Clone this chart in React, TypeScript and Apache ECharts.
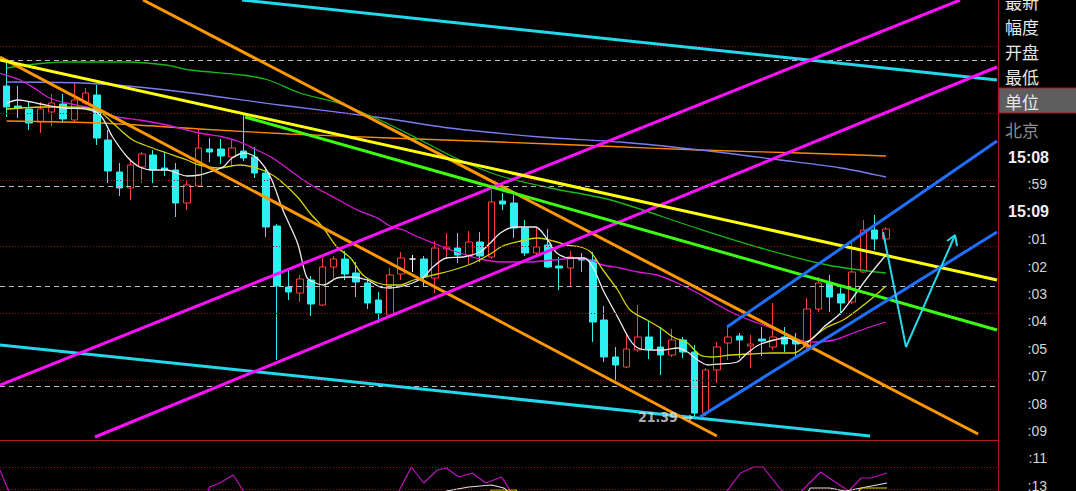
import React, { useEffect, useRef } from 'react';
import * as echarts from 'echarts';

// ---- candles: [open, close, lowest, highest] ----
const candles: number[][] = [
  [22.382, 22.319, 22.289, 22.451], [22.322, 22.316, 22.286, 22.382], [22.313, 22.271, 22.25, 22.337],
  [22.274, 22.313, 22.241, 22.334], [22.304, 22.331, 22.262, 22.358], [22.328, 22.283, 22.271, 22.358],
  [22.28, 22.34, 22.271, 22.391], [22.331, 22.361, 22.325, 22.376], [22.355, 22.226, 22.205, 22.385],
  [22.22, 22.127, 22.091, 22.25], [22.124, 22.076, 22.052, 22.151], [22.076, 22.145, 22.04, 22.16],
  [22.139, 22.178, 22.091, 22.184], [22.175, 22.13, 22.091, 22.19], [22.136, 22.13, 22.112, 22.184],
  [22.13, 22.031, 21.989, 22.151], [22.031, 22.085, 22.01, 22.1], [22.082, 22.196, 22.079, 22.253],
  [22.193, 22.184, 22.154, 22.226], [22.193, 22.172, 22.148, 22.223], [22.169, 22.196, 22.145, 22.22],
  [22.187, 22.166, 22.157, 22.295], [22.169, 22.121, 22.106, 22.199], [22.121, 21.959, 21.929, 22.139],
  [21.962, 21.782, 21.56, 21.968], [21.779, 21.764, 21.74, 21.833], [21.761, 21.803, 21.734, 21.815],
  [21.8, 21.728, 21.692, 21.812], [21.725, 21.839, 21.722, 21.866], [21.839, 21.863, 21.8, 21.872],
  [21.863, 21.818, 21.8, 21.887], [21.821, 21.794, 21.749, 21.854], [21.791, 21.731, 21.713, 21.803],
  [21.74, 21.701, 21.671, 21.764], [21.695, 21.815, 21.689, 21.836], [21.818, 21.866, 21.8, 21.884],
  [21.863, 21.863, 21.824, 21.875], [21.863, 21.809, 21.782, 21.872], [21.806, 21.896, 21.761, 21.917],
  [21.893, 21.899, 21.863, 21.941], [21.896, 21.875, 21.851, 21.941], [21.875, 21.914, 21.848, 21.947],
  [21.914, 21.872, 21.854, 21.944], [21.869, 22.034, 21.863, 22.07], [22.037, 22.028, 22.01, 22.061],
  [22.031, 21.956, 21.926, 22.055], [21.956, 21.881, 21.872, 21.98], [21.881, 21.899, 21.875, 21.956],
  [21.905, 21.839, 21.836, 21.953], [21.842, 21.836, 21.77, 21.869], [21.836, 21.869, 21.779, 21.887],
  [21.866, 21.86, 21.824, 21.881], [21.86, 21.674, 21.614, 21.884], [21.68, 21.569, 21.554, 21.722],
  [21.569, 21.545, 21.5, 21.599], [21.539, 21.593, 21.536, 21.641], [21.59, 21.629, 21.584, 21.725],
  [21.629, 21.593, 21.563, 21.677], [21.599, 21.575, 21.515, 21.659], [21.575, 21.62, 21.569, 21.653],
  [21.62, 21.584, 21.566, 21.629], [21.584, 21.401, 21.39, 21.605], [21.401, 21.53, 21.392, 21.536],
  [21.53, 21.599, 21.491, 21.614], [21.611, 21.629, 21.56, 21.659], [21.632, 21.62, 21.566, 21.641],
  [21.602, 21.608, 21.536, 21.635], [21.623, 21.617, 21.572, 21.659], [21.599, 21.629, 21.59, 21.731],
  [21.629, 21.608, 21.584, 21.659], [21.62, 21.608, 21.572, 21.641], [21.599, 21.713, 21.593, 21.746],
  [21.713, 21.791, 21.704, 21.809], [21.791, 21.749, 21.704, 21.815], [21.758, 21.731, 21.695, 21.785],
  [21.734, 21.824, 21.728, 21.911], [21.824, 21.95, 21.821, 21.98], [21.95, 21.923, 21.89, 21.995],
  [21.923, 21.953, 21.911, 21.959],
];
const crossDojiIndex = 36;
const lowIndex = 61;
const lowValue = 21.39;
const lowLabel = '21.39';

// ---- moving averages: [candle index, price] ----
const ma5: number[][] = [
  [0, 22.331], [1, 22.34], [3, 22.328], [5, 22.316], [7, 22.313], [8.3, 22.295], [9.4, 22.229], [10.7, 22.169],
  [11.8, 22.139], [13, 22.13], [14.2, 22.13], [16, 22.112], [17.1, 22.115], [18, 22.124], [19.2, 22.139],
  [20, 22.166], [21.1, 22.181], [22.2, 22.166], [23.4, 22.109], [24.5, 22.01], [25.8, 21.911], [26.6, 21.809],
  [27.2, 21.794], [28.1, 21.785], [29.3, 21.806], [30.5, 21.809], [32, 21.8], [33.1, 21.779], [34, 21.776],
  [35.5, 21.785], [37, 21.809], [37.8, 21.839], [39, 21.866], [40.5, 21.869], [42, 21.884], [42.9, 21.911],
  [43.8, 21.941], [45, 21.959], [46.9, 21.959], [48, 21.92], [48.8, 21.881], [50, 21.866], [51.2, 21.866],
  [52, 21.839], [52.9, 21.77], [54.2, 21.689], [55.3, 21.62], [56, 21.596], [57.1, 21.59], [58.3, 21.59],
  [59.5, 21.596], [60.4, 21.584], [61.3, 21.56], [62.2, 21.545], [63.3, 21.548], [64.8, 21.554], [65.7, 21.581],
  [66.9, 21.608], [69.3, 21.626], [70.4, 21.611], [71.3, 21.62], [72.5, 21.659], [74, 21.701], [75.1, 21.749],
  [76.4, 21.809], [78, 21.875],
];
const ma10: number[][] = [
  [0, 22.313], [1.2, 22.316], [3.2, 22.319], [5.3, 22.319], [7.1, 22.316], [8.3, 22.304], [9.8, 22.259],
  [11.2, 22.22], [12.7, 22.199], [14.2, 22.181], [16, 22.16], [17.1, 22.145], [18.7, 22.136], [20.7, 22.145],
  [21.8, 22.139], [23.1, 22.124], [24.2, 22.1], [25.8, 22.049], [26.9, 22.001], [28.1, 21.956], [29.3, 21.899],
  [30.5, 21.866], [31.6, 21.815], [32.9, 21.791], [34, 21.785], [34.9, 21.785], [36.1, 21.8], [38.2, 21.818],
  [39.6, 21.83], [41.4, 21.851], [42.9, 21.878], [44, 21.902], [45.6, 21.917], [47.1, 21.926], [48.5, 21.917],
  [49.7, 21.905], [50.9, 21.899], [51.8, 21.884], [52.9, 21.83], [54.2, 21.77], [55.3, 21.71], [56.8, 21.68],
  [58, 21.656], [59.1, 21.629], [60.4, 21.611], [61.5, 21.575], [62.7, 21.569], [64.2, 21.575], [66, 21.578],
  [67.8, 21.581], [69.8, 21.581], [71.6, 21.629], [72.8, 21.659], [74.2, 21.68], [75.8, 21.719], [76.9, 21.749],
  [78, 21.782],
];
const ma20: number[][] = [
  [-0.6, 22.42], [1.2, 22.4], [2.7, 22.37], [3.8, 22.346], [5.3, 22.331], [7.1, 22.319], [8.3, 22.304],
  [9.8, 22.289], [11.8, 22.28], [14.2, 22.265], [16, 22.25], [17.1, 22.241], [19.2, 22.229], [20.7, 22.214],
  [22.2, 22.19], [23.6, 22.166], [25.1, 22.13], [26.3, 22.1], [27.8, 22.07], [29.3, 22.043], [31.1, 22.01],
  [32.9, 21.986], [34, 21.962], [35.2, 21.95], [36.1, 21.935], [38.5, 21.902], [40.2, 21.881], [42, 21.863],
  [43.8, 21.854], [46.2, 21.854], [48.5, 21.86], [50.9, 21.866], [51.8, 21.86], [52.9, 21.845], [54.4, 21.836],
  [56, 21.824], [57.7, 21.815], [59.5, 21.791], [61.3, 21.761], [63.1, 21.725], [64.8, 21.695], [66.6, 21.671],
  [67.8, 21.656], [69.8, 21.626], [71.6, 21.614], [73.4, 21.62], [75.1, 21.641], [76.6, 21.659], [78, 21.674],
];
const ma60: number[][] = [
  [0, 22.436], [5.1, 22.454], [10.7, 22.454], [14.1, 22.445], [16.3, 22.43], [20.9, 22.415], [23.2, 22.4],
  [26, 22.361], [29.4, 22.331], [33.1, 22.28], [36.7, 22.22], [40.2, 22.16], [43.8, 22.112], [48.2, 22.076],
  [53.6, 22.04], [60.9, 21.959], [66.9, 21.896], [72.8, 21.845], [78, 21.821],
];
const ma120: number[][] = [
  [0, 22.394], [6.7, 22.391], [14.2, 22.37], [24.2, 22.325], [33.4, 22.286], [39.3, 22.256], [47.3, 22.229],
  [54.4, 22.214], [61.5, 22.19], [68.6, 22.16], [74, 22.136], [78, 22.109],
];
const ma250: number[][] = [
  [0, 22.277], [8.3, 22.271], [17.1, 22.253], [25.1, 22.238], [34, 22.226], [43.8, 22.214], [52.7, 22.202],
  [61.5, 22.19], [70.4, 22.181], [78, 22.172],
];

// ---- drawn trend lines: [candle index, price] ----
const cyanTop = [[20.88, 22.64], [87.85, 22.4]];
const cyanBottom = [[-0.59, 21.605], [76.59, 21.332]];
const yellowTrend = [[-0.59, 22.46], [87.85, 21.8]];
const greenTrend = [[21.14, 22.289], [87.85, 21.65]];
const orangeUpper = [[12.1, 22.64], [86.17, 21.338]];
const orangeLower = [[-0.59, 22.469], [63.0, 21.332]];
const magentaUpper = [[-0.59, 21.485], [84.57, 22.64]];
const magentaLower = [[7.84, 21.329], [87.85, 22.439]];
const blueUpper = [[63.9, 21.659], [87.85, 22.217]];
const blueLower = [[61.5, 21.389], [87.85, 21.944]];
const arrowPath = [[77.74, 21.944], [79.78, 21.599], [84.13, 21.935]];
const arrowHeadLeft = [[84.13, 21.935], [83.42, 21.917]];
const arrowHeadRight = [[84.13, 21.935], [84.3, 21.902]];

// ---- horizontal levels ----
const gridLevels = [22.5, 22.3, 22.1, 21.9, 21.7, 21.5];
const dashedLevels = [22.457, 22.082, 21.779, 21.479];

// ---- indicator pane: [candle index, value 0..100] ----
const oscMagenta: number[][] = [
  [-0.6, 42], [0.4, -12], [17.7, -12], [18, 8], [18.9, 16], [20.1, 32], [21, 0], [21.3, -12], [34.5, -12],
  [34.8, 0], [35.9, 48], [37, 16], [38.2, 42], [39, 46], [40.1, 28], [41.3, 36], [42.5, 16], [43.9, 28],
  [44.7, 0], [45, -12], [63.6, -12], [63.9, 0], [65.1, 36], [66.3, 48], [67.1, 48], [68.7, 2], [69.2, -6],
  [70.2, -6], [70.6, 2], [72.2, 38], [73.5, 18], [74.7, 0], [75.8, 26], [76.6, 26], [78.1, 36],
];
const oscWhite: number[][] = [
  [38.6, -12], [39, 0], [41, 8], [43, 12], [44.1, 6], [45, -12], [70.8, -12], [71.3, 6], [73, 6], [74.4, 0],
  [75.8, 6], [78.1, 16],
];
const oscYellow: number[][] = [
  [42.6, -12], [43, 2], [45.2, 2], [45.6, -12], [75.2, -12], [75.8, 6], [78.1, 6],
];
const oscLevels = [48, 4];

// ---- right info panel ----
const panelLabels = ['最新', '幅度', '开盘', '最低', '单位', '北京'];
const timeLabels = ['15:08', ':59', '15:09', ':01', ':02', ':03', ':04', ':05', ':07', ':08', ':09', ':11', ':13'];

const X_MIN = -0.59;
const X_MAX = 87.85;

function seg(data: number[][], color: string, width: number, z = 6) {
  return {
    type: 'line', xAxisIndex: 0, yAxisIndex: 0, data, symbol: 'none', showSymbol: false,
    lineStyle: { color, width }, z, silent: true, clip: true,
  };
}
function ma(data: number[][], color: string, width = 1.3) {
  return {
    type: 'line', xAxisIndex: 0, yAxisIndex: 0, data, symbol: 'none', showSymbol: false, smooth: 0.3,
    lineStyle: { color, width }, z: 4, silent: true, clip: true,
  };
}
function osc(data: number[][], color: string) {
  return {
    type: 'line', xAxisIndex: 1, yAxisIndex: 1, data, symbol: 'none', showSymbol: false,
    lineStyle: { color, width: 1.2 }, z: 4, silent: true, clip: true,
  };
}

export default function App() {
  const ref = useRef<HTMLDivElement>(null);
  useEffect(() => {
    if (!ref.current) return;
    const chart = echarts.init(ref.current, undefined, { renderer: 'svg' });

    const candleData = candles.map((c, i) => {
      const item: any = { value: [i, c[0], c[1], c[2], c[3]] };
      if (i === crossDojiIndex) {
        item.itemStyle = { color: '#ffffff', color0: '#ffffff', borderColor: '#ffffff', borderColor0: '#ffffff', borderColorDoji: '#ffffff' };
      }
      return item;
    });

    const graphics: any[] = [];
    graphics.push({ type: 'line', shape: { x1: 0, y1: 440.5, x2: 998, y2: 440.5 }, style: { stroke: '#b01818', lineWidth: 1 }, z: 100 });
    graphics.push({ type: 'rect', shape: { x: 999, y: 88, width: 78, height: 25 }, style: { fill: '#5e5e5e', stroke: '#a81818', lineWidth: 1 }, z: 100 });
    graphics.push({ type: 'line', shape: { x1: 998.5, y1: 0, x2: 998.5, y2: 491 }, style: { stroke: '#b01818', lineWidth: 1 }, z: 101 });
    panelLabels.forEach((t, i) => {
      graphics.push({
        type: 'text', x: 1005, y: i * 25 + (i === 5 ? 3 : 0) + 1, z: 102,
        style: {
          text: t, fill: i === 5 ? '#8c8c8c' : '#e8e8e8', font: '17px "Noto Sans CJK SC"',
          textAlign: 'left', align: 'left', textVerticalAlign: 'middle', verticalAlign: 'middle',
        },
      });
    });
    timeLabels.forEach((t, k) => {
      const bold = t.length > 3;
      graphics.push({
        type: 'text', x: bold ? 1049 : 1047, y: 157 + k * 27.4, z: 102,
        style: {
          text: t, fill: bold ? '#f0f0f0' : '#d4d4d4',
          font: bold ? 'bold 16px "Liberation Sans"' : '14px "Liberation Sans"',
          textAlign: 'right', align: 'right', textVerticalAlign: 'middle', verticalAlign: 'middle',
        },
      });
    });

    const option: any = {
      animation: false,
      backgroundColor: '#000000',
      grid: [
        { left: 0, top: 0, width: 997, height: 440 },
        { left: 0, top: 441, width: 997, height: 50 },
      ],
      xAxis: [
        { type: 'value', gridIndex: 0, min: X_MIN, max: X_MAX, show: false },
        { type: 'value', gridIndex: 1, min: X_MIN, max: X_MAX, show: false },
      ],
      yAxis: [
        { type: 'value', gridIndex: 0, min: 21.32, max: 22.64, show: false, scale: true },
        { type: 'value', gridIndex: 1, min: 0, max: 100, show: false },
      ],
      graphic: graphics,
      series: [
        {
          type: 'line', xAxisIndex: 0, yAxisIndex: 0, data: [], z: 1, silent: true,
          markLine: {
            silent: true, symbol: 'none', label: { show: false },
            data: [
              ...gridLevels.map((v) => ({ yAxis: v, lineStyle: { color: '#9a1212', type: [1, 2], width: 1 } })),
              ...dashedLevels.map((v) => ({ yAxis: v, lineStyle: { color: '#bdbdbd', type: [5, 4], width: 1 } })),
            ],
          },
        },
        {
          type: 'line', xAxisIndex: 1, yAxisIndex: 1, data: [], z: 1, silent: true,
          markLine: {
            silent: true, symbol: 'none', label: { show: false },
            data: oscLevels.map((v) => ({ yAxis: v, lineStyle: { color: '#9a1212', type: [1, 2], width: 1 } })),
          },
        },
        {
          type: 'candlestick', xAxisIndex: 0, yAxisIndex: 0, barWidth: 7, z: 3, silent: true,
          encode: { x: 0, y: [1, 2, 3, 4] },
          data: candleData,
          itemStyle: {
            color: '#000000', color0: '#2ef0f0', borderColor: '#ff3c3c', borderColor0: '#2ef0f0',
            borderColorDoji: '#2ef0f0', borderWidth: 1,
          },
        },
        ma(ma250, '#ff8a00'),
        ma(ma120, '#7c7cf0'),
        ma(ma60, '#18b818'),
        ma(ma20, '#dc18dc'),
        ma(ma10, '#d4d400'),
        ma(ma5, '#ececec'),
        seg(cyanTop, '#22d8ea', 3),
        seg(cyanBottom, '#22d8ea', 3),
        seg(orangeUpper, '#ff9800', 3),
        seg(orangeLower, '#ff9800', 3),
        seg(magentaUpper, '#ff10ff', 3),
        seg(magentaLower, '#ff10ff', 3),
        seg(greenTrend, '#3cff10', 3),
        seg(yellowTrend, '#ffff10', 3),
        seg(blueUpper, '#2070ff', 3),
        seg(blueLower, '#2070ff', 3),
        seg(arrowPath, '#28d8e8', 2, 7),
        seg(arrowHeadLeft, '#28d8e8', 2, 7),
        seg(arrowHeadRight, '#28d8e8', 2, 7),
        {
          type: 'scatter', xAxisIndex: 0, yAxisIndex: 0, z: 20, silent: true,
          symbolSize: 1, itemStyle: { color: 'rgba(0,0,0,0)' },
          data: [[lowIndex, lowValue]],
          label: {
            show: true, position: 'left', distance: 1, formatter: lowLabel + ' →',
            color: '#dcdcdc', fontSize: 14, fontWeight: 'bold', fontFamily: 'DejaVu Sans Condensed',
          },
        },
        osc(oscMagenta, '#c010c0'),
        osc(oscWhite, '#e0e0e0'),
        osc(oscYellow, '#e0d000'),
      ],
    };
    chart.setOption(option);
    return () => chart.dispose();
  }, []);
  return (
    <div
      ref={ref}
      style={{ position: 'fixed', left: 0, top: 0, width: 1076, height: 491, background: '#000' }}
    />
  );
}
